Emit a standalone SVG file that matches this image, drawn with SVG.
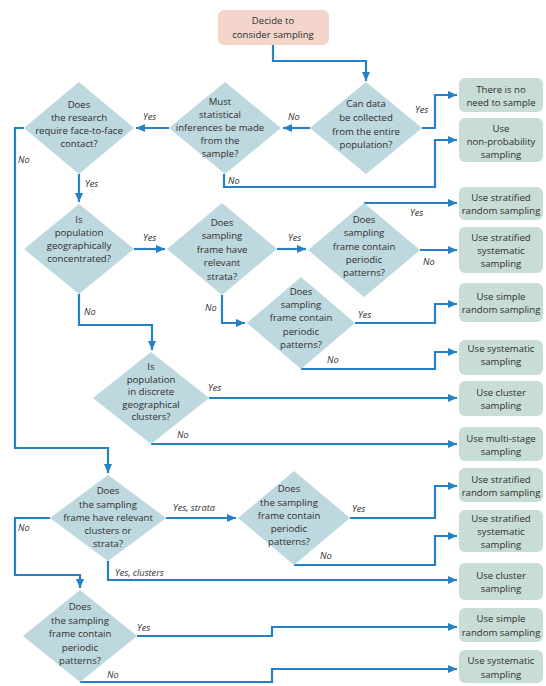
<svg xmlns="http://www.w3.org/2000/svg" width="546" height="686" viewBox="0 0 546 686">
<style>
.bg{fill:#ffffff}
.start{fill:#f3d5cb}
.box{fill:#c8ddd5}
.dia{fill:#bed8df}
.t{font-family:"Open Sans","Liberation Sans",sans-serif;font-size:9.6px;fill:#2e2e2e;text-anchor:middle}
.lbl{font-family:"Open Sans","Liberation Sans",sans-serif;font-size:9.2px;font-style:italic;fill:#2e2e2e}
.c{fill:none;stroke:#2581c4;stroke-width:2.2;marker-end:url(#ah)}
</style>
<defs>
<marker id="ah" markerUnits="userSpaceOnUse" markerWidth="10" markerHeight="8" refX="9" refY="4" orient="auto">
<path d="M0,0 L9,4 L0,8 z" fill="#2581c4"/>
</marker>
</defs>
<rect class="bg" x="0" y="0" width="546" height="686"/>

<g id="connectors">
<path class="c" d="M273,45 V61 H366 V81"/>
<path class="c" d="M422,128 H435 V95 H457"/>
<path class="c" d="M310,128 H283"/>
<path class="c" d="M224,174 V187 H435 V140 H457"/>
<path class="c" d="M169,128 H136"/>
<path class="c" d="M24,128 H15 V448 H108 V473"/>
<path class="c" d="M79,174 V202"/>
<path class="c" d="M134,249 H165"/>
<path class="c" d="M79,294 V325 H152 V350"/>
<path class="c" d="M277,249 H306"/>
<path class="c" d="M222,295 V323 H245"/>
<path class="c" d="M364,203 H457"/>
<path class="c" d="M420,250 H457"/>
<path class="c" d="M355,323 H435 V304 H457"/>
<path class="c" d="M301,369 H435 V352 H457"/>
<path class="c" d="M209,398 H457"/>
<path class="c" d="M151,444 H457"/>
<path class="c" d="M166,518 H236"/>
<path class="c" d="M50,518 H15 V575 H80 V588"/>
<path class="c" d="M108,561 V580 H457"/>
<path class="c" d="M350,518 H435 V486 H457"/>
<path class="c" d="M294,565 H435 V536 H457"/>
<path class="c" d="M137,636 H272 V627 H457"/>
<path class="c" d="M80,682 H272 V669 H457"/>
</g>

<g id="labels">
<text class="lbl" x="415" y="113">Yes</text>
<text class="lbl" x="288" y="120">No</text>
<text class="lbl" x="143" y="120">Yes</text>
<text class="lbl" x="228" y="184">No</text>
<text class="lbl" x="18" y="163">No</text>
<text class="lbl" x="85" y="187">Yes</text>
<text class="lbl" x="143" y="241">Yes</text>
<text class="lbl" x="84" y="315">No</text>
<text class="lbl" x="205" y="311">No</text>
<text class="lbl" x="288" y="241">Yes</text>
<text class="lbl" x="410" y="216">Yes</text>
<text class="lbl" x="423" y="265">No</text>
<text class="lbl" x="358" y="318">Yes</text>
<text class="lbl" x="327" y="363">No</text>
<text class="lbl" x="208" y="391">Yes</text>
<text class="lbl" x="177" y="438">No</text>
<text class="lbl" x="173" y="511">Yes, strata</text>
<text class="lbl" x="18" y="531">No</text>
<text class="lbl" x="115" y="576">Yes, clusters</text>
<text class="lbl" x="352" y="512">Yes</text>
<text class="lbl" x="320" y="559">No</text>
<text class="lbl" x="137" y="631">Yes</text>
<text class="lbl" x="107" y="678">No</text>
</g>

<g id="start">
<rect class="start" x="218" y="10" width="111" height="35" rx="6"/>
<text class="t" x="273" y="24">Decide to</text>
<text class="t" x="273" y="38">consider sampling</text>
</g>

<g id="q-entire-population">
<polygon class="dia" points="366,82 422,128 366,174 310,128"/>
<text class="t" x="366" y="107">Can data</text>
<text class="t" x="366" y="121">be collected</text>
<text class="t" x="366" y="135">from the entire</text>
<text class="t" x="366" y="148">population?</text>
</g>

<g id="q-statistical-inferences">
<polygon class="dia" points="225,82 281,128 225,174 169,128"/>
<text class="t" x="220" y="105">Must</text>
<text class="t" x="220" y="118">statistical</text>
<text class="t" x="220" y="131">inferences be made</text>
<text class="t" x="220" y="144">from the</text>
<text class="t" x="220" y="157">sample?</text>
</g>

<g id="q-face-to-face">
<polygon class="dia" points="79,82 134,128 79,174 24,128"/>
<text class="t" x="79" y="108">Does</text>
<text class="t" x="79" y="121">the research</text>
<text class="t" x="79" y="134">require face-to-face</text>
<text class="t" x="79" y="147">contact?</text>
</g>

<g id="q-geo-concentrated">
<polygon class="dia" points="79,204 134,249 79,294 24,249"/>
<text class="t" x="79" y="223">Is</text>
<text class="t" x="79" y="236">population</text>
<text class="t" x="79" y="249">geographically</text>
<text class="t" x="79" y="262">concentrated?</text>
</g>

<g id="q-relevant-strata">
<polygon class="dia" points="222,203 277,249 222,295 167,249"/>
<text class="t" x="222" y="226">Does</text>
<text class="t" x="222" y="239">sampling</text>
<text class="t" x="222" y="253">frame have</text>
<text class="t" x="222" y="266">relevant</text>
<text class="t" x="222" y="280">strata?</text>
</g>

<g id="q-periodic-1">
<polygon class="dia" points="364,203 420,250 364,297 308,250"/>
<text class="t" x="364" y="223">Does</text>
<text class="t" x="364" y="236">sampling</text>
<text class="t" x="364" y="250">frame contain</text>
<text class="t" x="364" y="263">periodic</text>
<text class="t" x="364" y="276">patterns?</text>
</g>

<g id="q-periodic-2">
<polygon class="dia" points="301,277 355,323 301,369 247,323"/>
<text class="t" x="301" y="295">Does</text>
<text class="t" x="301" y="308">sampling</text>
<text class="t" x="301" y="321">frame contain</text>
<text class="t" x="301" y="335">periodic</text>
<text class="t" x="301" y="348">patterns?</text>
</g>

<g id="q-discrete-clusters">
<polygon class="dia" points="151,352 209,398 151,444 93,398"/>
<text class="t" x="151" y="370">Is</text>
<text class="t" x="151" y="383">population</text>
<text class="t" x="151" y="395">in discrete</text>
<text class="t" x="151" y="408">geographical</text>
<text class="t" x="151" y="420">clusters?</text>
</g>

<g id="q-clusters-or-strata">
<polygon class="dia" points="108,475 166,518 108,561 50,518"/>
<text class="t" x="108" y="494">Does</text>
<text class="t" x="108" y="508">the sampling</text>
<text class="t" x="108" y="521">frame have relevant</text>
<text class="t" x="108" y="534">clusters or</text>
<text class="t" x="108" y="547">strata?</text>
</g>

<g id="q-periodic-3">
<polygon class="dia" points="294,471 350,518 294,565 238,518"/>
<text class="t" x="289" y="492">Does</text>
<text class="t" x="289" y="506">the sampling</text>
<text class="t" x="289" y="519">frame contain</text>
<text class="t" x="289" y="532">periodic</text>
<text class="t" x="289" y="545">patterns?</text>
</g>

<g id="q-periodic-4">
<polygon class="dia" points="80,590 137,636 80,682 23,636"/>
<text class="t" x="80" y="610">Does</text>
<text class="t" x="80" y="624">the sampling</text>
<text class="t" x="80" y="637">frame contain</text>
<text class="t" x="80" y="651">periodic</text>
<text class="t" x="80" y="664">patterns?</text>
</g>

<g id="r-no-need">
<rect class="box" x="459" y="78" width="84" height="34" rx="6"/>
<text class="t" x="501" y="93">There is no</text>
<text class="t" x="501" y="106">need to sample</text>
</g>
<g id="r-non-probability">
<rect class="box" x="459" y="118" width="84" height="44" rx="6"/>
<text class="t" x="501" y="132">Use</text>
<text class="t" x="501" y="145">non-probability</text>
<text class="t" x="501" y="158">sampling</text>
</g>
<g id="r-stratified-random-1">
<rect class="box" x="459" y="187" width="84" height="33" rx="6"/>
<text class="t" x="501" y="201">Use stratified</text>
<text class="t" x="501" y="214">random sampling</text>
</g>
<g id="r-stratified-systematic-1">
<rect class="box" x="459" y="227" width="84" height="46" rx="6"/>
<text class="t" x="501" y="241">Use stratified</text>
<text class="t" x="501" y="254">systematic</text>
<text class="t" x="501" y="267">sampling</text>
</g>
<g id="r-simple-random-1">
<rect class="box" x="459" y="283" width="84" height="39" rx="6"/>
<text class="t" x="501" y="300">Use simple</text>
<text class="t" x="501" y="313">random sampling</text>
</g>
<g id="r-systematic-1">
<rect class="box" x="459" y="340" width="84" height="35" rx="6"/>
<text class="t" x="501" y="352">Use systematic</text>
<text class="t" x="501" y="365">sampling</text>
</g>
<g id="r-cluster-1">
<rect class="box" x="459" y="381" width="84" height="35" rx="6"/>
<text class="t" x="501" y="396">Use cluster</text>
<text class="t" x="501" y="409">sampling</text>
</g>
<g id="r-multi-stage">
<rect class="box" x="459" y="427" width="84" height="34" rx="6"/>
<text class="t" x="501" y="442">Use multi-stage</text>
<text class="t" x="501" y="455">sampling</text>
</g>
<g id="r-stratified-random-2">
<rect class="box" x="459" y="468" width="84" height="34" rx="6"/>
<text class="t" x="501" y="483">Use stratified</text>
<text class="t" x="501" y="496">random sampling</text>
</g>
<g id="r-stratified-systematic-2">
<rect class="box" x="459" y="510" width="84" height="42" rx="6"/>
<text class="t" x="501" y="522">Use stratified</text>
<text class="t" x="501" y="535">systematic</text>
<text class="t" x="501" y="548">sampling</text>
</g>
<g id="r-cluster-2">
<rect class="box" x="459" y="563" width="84" height="37" rx="6"/>
<text class="t" x="501" y="579">Use cluster</text>
<text class="t" x="501" y="592">sampling</text>
</g>
<g id="r-simple-random-2">
<rect class="box" x="459" y="608" width="84" height="34" rx="6"/>
<text class="t" x="501" y="622">Use simple</text>
<text class="t" x="501" y="636">random sampling</text>
</g>
<g id="r-systematic-2">
<rect class="box" x="459" y="650" width="84" height="33" rx="6"/>
<text class="t" x="501" y="664">Use systematic</text>
<text class="t" x="501" y="678">sampling</text>
</g>
</svg>
